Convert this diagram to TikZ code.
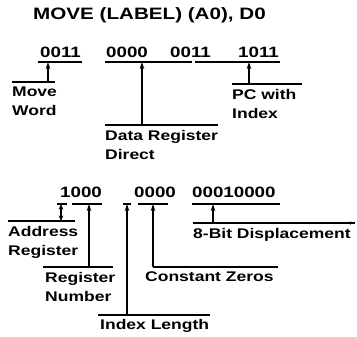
\documentclass[tikz,border=0pt]{standalone}
\usepackage{fontspec}
\setmainfont{Liberation Sans}[FakeStretch=1.25]
\usetikzlibrary{arrows.meta,positioning}
\tikzset{
  title/.style={anchor=base west,inner sep=0pt,font=\bfseries\fontsize{16.5}{16.5}\selectfont},
  bits/.style={anchor=base west,inner sep=0pt,font=\bfseries\fontsize{15}{15}\selectfont},
  field/.style={anchor=north west,inner sep=0pt,align=left,font=\bfseries\fontsize{14}{19}\selectfont},
  rule/.style={line width=1.4pt},
  pointer/.style={line width=1.2pt,->}
}

\begin{document}
\begin{tikzpicture}[x=1pt,y=-1pt,>={Stealth[length=7pt,width=4.5pt]}]
  \useasboundingbox[fill=white] (0,0) rectangle (357,337);
  \node[title] (instr) at (33,19.5) {MOVE (LABEL) (A0), D0};

  % operation word
  \node[bits] (opword) at (40,58) {0011};
  \node[bits] (dstfield) at (106,58) {0000};
  \node[bits] (midfield) at (170,58) {0011};
  \node[bits] (srcfield) at (238,58) {1011};
  \draw[rule] (38,62) -- (82,62);
  \draw[rule] (105,62) -- (192,62);
  \draw[rule] (195,62) -- (280,62);

  \coordinate (opword-tick) at (48,62);
  \coordinate (dst-tick) at (142,62);
  \coordinate (src-tick) at (249,62);
  \coordinate (movew-tick) at (48,82);
  \coordinate (datareg-tick) at (142,125);
  \coordinate (pcindex-tick) at (249,84);
  \draw[rule] (12,82) -- (55,82);
  \draw[rule] (105,125) -- (218,125);
  \draw[rule] (232,84) -- (302,84);
  \node[field] (movew) at (12,87) {Move\\Word};
  \node[field] (datareg) at (105,130) {Data Register\\Direct};
  \node[field] (pcindex) at (232,89) {PC with\\Index};
  \draw[pointer] (movew-tick) -- (opword-tick);
  \draw[pointer] (datareg-tick) -- (dst-tick);
  \draw[pointer] (pcindex-tick) -- (src-tick);

  % extension word
  \node[bits] (extreg) at (60,198) {1000};
  \node[bits] (extmid) at (134,198) {0000};
  \node[bits] (extdisp) at (192,198) {00010000};
  \draw[rule] (57,204) -- (67,204);
  \draw[rule] (72,204) -- (102,204);
  \draw[rule] (123,204) -- (131,204);
  \draw[rule] (138,204) -- (168,204);
  \draw[rule] (192,204) -- (280,204);

  \coordinate (da-tick) at (61,204);
  \coordinate (regno-tick) at (89,204);
  \coordinate (wl-tick) at (127,204);
  \coordinate (zeros-tick) at (153,204);
  \coordinate (disp-tick) at (213,204);
  \coordinate (addrreg-tick) at (61,221);
  \coordinate (regnum-tick) at (89,267);
  \coordinate (idxlen-tick) at (127,315);
  \coordinate (const-tick) at (153,267);
  \coordinate (bitdisp-tick) at (213,223);
  \coordinate (bitdisp-end) at (355,223);
  \draw[rule] (8,221) -- (75,221);
  \draw[rule] (43,267) -- (113,267);
  \draw[rule] (98,315) -- (210,315);
  \draw[rule] (153,267) -- (278,267);
  \draw[rule] (193,223) -- (bitdisp-end);
  \draw[line width=1pt,-{Stealth[length=5pt,width=3pt]}] (340,223) -- (bitdisp-end);
  \node[field] (addrreg) at (8,226) {Address\\Register};
  \node[field] (regnum) at (45,272) {Register\\Number};
  \node[field] (idxlen) at (100,319.5) {Index Length};
  \node[field] (constz) at (145,272) {Constant Zeros};
  \node[field] (bitdisp) at (193,228) {8-Bit Displacement};
  \draw[pointer,<->,>={Stealth[length=5.5pt,width=4.5pt]}] (addrreg-tick) -- (da-tick);
  \draw[pointer] (regnum-tick) -- (regno-tick);
  \draw[pointer] (idxlen-tick) -- (wl-tick);
  \draw[pointer] (const-tick) -- (zeros-tick);
  \draw[pointer] (bitdisp-tick) -- (disp-tick);
\end{tikzpicture}
\end{document}
